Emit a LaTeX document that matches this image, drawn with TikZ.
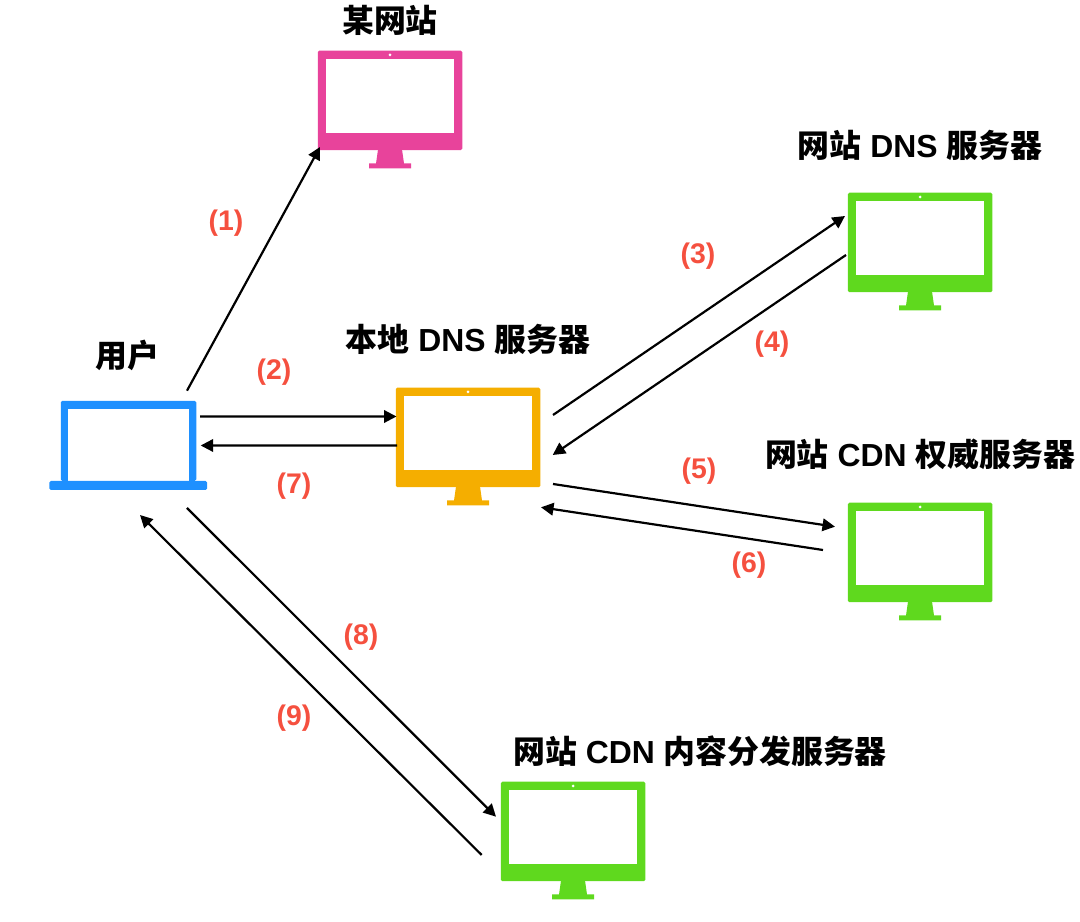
\documentclass[tikz,border=0pt]{standalone}
\usepackage{fontspec}
\setmainfont{Liberation Sans}
\newfontfamily\cjk{Noto Sans CJK SC}
\usetikzlibrary{arrows.meta}
\definecolor{sitepink}{HTML}{E8439B}
\definecolor{userblue}{HTML}{1E90FF}
\definecolor{dnsyellow}{HTML}{F5AE00}
\definecolor{srvgreen}{HTML}{5FD91E}
\definecolor{steppink}{HTML}{F5503F}
\tikzset{
  title/.style={font=\fontsize{32}{32}\selectfont\bfseries,inner sep=0pt},
  steplabel/.style={font=\fontsize{28.5}{28.5}\selectfont\bfseries,text=steppink,inner sep=0pt},
  link/.style={black,->,line width=2.2bp},
  frame/.style={rectangle,rounded corners=1.5bp,inner sep=0pt,outer sep=0pt},
}
% one desktop screen, body centred at #2,#3
\newcommand{\monitor}[4]{
  \fill [#4] (#2bp-12bp,#3bp-49bp) -- (#2bp+12bp,#3bp-49bp) -- (#2bp+14bp,#3bp-63bp) -- (#2bp+21bp,#3bp-63bp)
    -- (#2bp+21bp,#3bp-68bp) -- (#2bp-21bp,#3bp-68bp) -- (#2bp-21bp,#3bp-63bp) -- (#2bp-14bp,#3bp-63bp) -- cycle;
  \node (#1) at (#2bp,#3bp) [frame,fill=#4,minimum width=144.5bp,minimum height=99.5bp] {};
  \fill [white] (#2bp-64.5bp,#3bp+41bp) rectangle (#2bp+64bp,#3bp-33bp);
  \fill [white] (#2bp,#3bp+45.5bp) circle (1.5bp);
}
\begin{document}
\begin{tikzpicture}[>={Triangle[length=12.5bp,width=12.5bp]},line join=bevel]
\useasboundingbox (0bp,0bp) rectangle (1080bp,922bp);
%%
\monitor{site}{390}{821.5}{sitepink}
\monitor{localdns}{468}{484.5}{dnsyellow}
\monitor{sitedns}{920}{679.5}{srvgreen}
\monitor{cdnauth}{920}{369.5}{srvgreen}
\monitor{cdnedge}{573}{90.5}{srvgreen}
% the laptop
\node (user) at (128.5bp,481bp) [frame,fill=userblue,minimum width=135.5bp,minimum height=80bp] {};
\fill [white] (67.7bp,512.7bp) rectangle (189.3bp,440bp);
\node (userbase) at (128.2bp,436.5bp) [frame,fill=userblue,minimum width=157.7bp,minimum height=9bp] {};
%
\node (t1) at (390bp,902bp) [title] {{\cjk 某网站}};
\node (t2) at (920bp,777bp) [title] {{\cjk 网站} DNS {\cjk 服务器}};
\node (t3) at (468bp,583bp) [title] {{\cjk 本地} DNS {\cjk 服务器}};
\node (t4) at (920bp,468bp) [title] {{\cjk 网站} CDN {\cjk 权威服务器}};
\node (t5) at (700bp,171bp) [title] {{\cjk 网站} CDN {\cjk 内容分发服务器}};
\node (t6) at (127bp,567bp) [title] {{\cjk 用户}};
%
\node (n1) at (226bp,699bp) [steplabel] {(1)};
\node (n2) at (274bp,550bp) [steplabel] {(2)};
\node (n3) at (698bp,666bp) [steplabel] {(3)};
\node (n4) at (772bp,578bp) [steplabel] {(4)};
\node (n5) at (699bp,451bp) [steplabel] {(5)};
\node (n6) at (749bp,357bp) [steplabel] {(6)};
\node (n7) at (294bp,436bp) [steplabel] {(7)};
\node (n8) at (361bp,285bp) [steplabel] {(8)};
\node (n9) at (294bp,204bp) [steplabel] {(9)};
%
\draw [link] ([shift={(58.5bp,50.3bp)}]user.center) -- ([shift={(-70bp,-46.5bp)}]site.center);
\draw [link] ([shift={(71.5bp,24.5bp)}]user.center) -- ([shift={(-71.5bp,21bp)}]localdns.center);
\draw [link] ([shift={(-71bp,-8bp)}]localdns.center) -- ([shift={(72.2bp,-4.5bp)}]user.center);
\draw [link] ([shift={(85bp,22.5bp)}]localdns.center) -- ([shift={(-75bp,26.5bp)}]sitedns.center);
\draw [link] ([shift={(-74bp,-12.5bp)}]sitedns.center) -- ([shift={(84.7bp,-17.5bp)}]localdns.center);
\draw [link] ([shift={(85bp,-46.5bp)}]localdns.center) -- ([shift={(-85bp,25.8bp)}]cdnauth.center);
\draw [link] ([shift={(-97bp,2.5bp)}]cdnauth.center) -- ([shift={(73bp,-69.8bp)}]localdns.center);
\draw [link] ([shift={(58.5bp,-67bp)}]user.center) -- ([shift={(-77bp,14.8bp)}]cdnedge.center);
\draw [link] ([shift={(-91.3bp,-23.5bp)}]cdnedge.center) -- ([shift={(11.5bp,-74bp)}]user.center);
%
\end{tikzpicture}
\end{document}
